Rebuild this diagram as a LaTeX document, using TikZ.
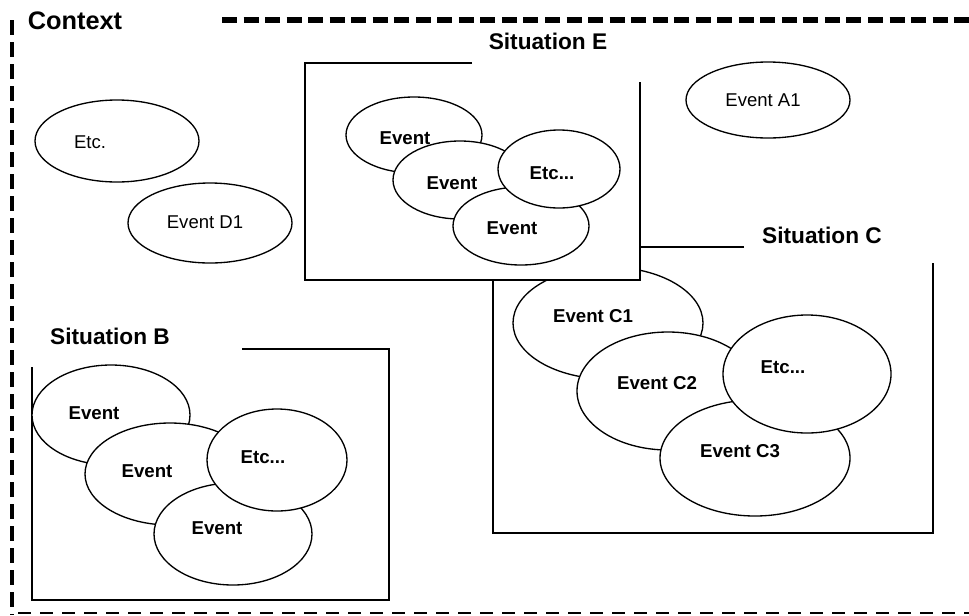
\documentclass[tikz,border=0pt]{standalone}
\usepackage{fontspec}
\setmainfont{Liberation Sans}
\usetikzlibrary{shapes.geometric}
\newcommand{\etcdots}{Etc...}

\begin{document}
\begin{tikzpicture}[x=0.75pt,y=-0.75pt,
                event/.style={ellipse,draw=black,fill=white,line width=1pt,inner sep=0pt},
                evtext/.style={font=\bfseries\fontsize{14}{16}\selectfont,inner sep=0pt},
                freetext/.style={font=\fontsize{13.9}{16}\selectfont,inner sep=0pt},
                sitlabel/.style={font=\bfseries\fontsize{17}{20}\selectfont,inner sep=0pt},
                sitbox/.style={draw=black,line width=1.1pt}
            ]
                \useasboundingbox (0,0) rectangle (969,615);

                % context frame
                \node[font=\bfseries\fontsize{19}{22}\selectfont,inner sep=0pt] (context) at (75,21) {Context};
                \coordinate (ctxtop) at (222,20);
                \coordinate (ctxtopr) at (969,20);
                \coordinate (ctxleft) at (12,20);
                \coordinate (ctxleftb) at (12,615);
                \coordinate (ctxbot) at (18,613);
                \coordinate (ctxbotr) at (969,613);
                \draw[line width=4.5pt,dash pattern=on 11.25pt off 4.9pt] (ctxtop) -- (ctxtopr);
                \draw[line width=3pt,dash pattern=on 11pt off 5.5pt] (ctxleft) -- (ctxleftb);
                \draw[line width=2.2pt,dash pattern=on 10pt off 6.5pt] (ctxbot) -- (ctxbotr);

                % events outside any situation
                \foreach \nm/\cx/\cy/\rx/\ry/\tx/\ty/\txt in {
                    etc/117/141/82/41/90/142/Etc.,
                    d1/210/223/82/40/205/222/Event D1,
                    a1/768/100/82/38/763/100/Event A1}
                    {
                    \node[event,minimum width=\rx*1.5pt,minimum height=\ry*1.5pt] (\nm) at (\cx,\cy) { };
                    \node[freetext] (\nm-t) at (\tx,\ty) {\txt};
                }

                % situation C
                \draw[sitbox] (744,247) -- (493,247) -- (493,533) -- (933,533) -- (933,263);
                \node[sitlabel] (sitC) at (822,235) {Situation C};
                \foreach \nm/\cx/\cy/\rx/\ry/\tx/\ty/\txt in {
                    c1/608/323/95/56/593/316/Event C1,
                    c2/668/391/91/59/657/383/Event C2,
                    c3/755/458/95/58/740/451/Event C3,
                    c4/807/374/84/59/783/367/\etcdots}
                    {
                    \node[event,minimum width=\rx*1.5pt,minimum height=\ry*1.5pt] (\nm) at (\cx,\cy) { };
                    \node[evtext] (\nm-t) at (\tx,\ty) {\txt};
                }

                % situation E
                \draw[sitbox,fill=white] (472,63) -- (305,63) -- (305,280) -- (640,280) -- (640,82);
                \node[sitlabel] (sitE) at (548,41) {Situation E};
                \foreach \nm/\cx/\cy/\rx/\ry/\tx/\ty/\txt in {
                    e1/414/135/68/38/405/138/Event,
                    e2/460/180/67/39/452/183/Event,
                    e3/521/226/68/39/512/228/Event,
                    e4/559/169/61/39/552/173/\etcdots}
                    {
                    \node[event,minimum width=\rx*1.5pt,minimum height=\ry*1.5pt] (\nm) at (\cx,\cy) { };
                    \node[evtext] (\nm-t) at (\tx,\ty) {\txt};
                }

                % situation B
                \draw[sitbox] (32,367) -- (32,600) -- (389,600) -- (389,349) -- (242,349);
                \node[sitlabel] (sitB) at (110,336) {Situation B};
                \foreach \nm/\cx/\cy/\rx/\ry/\tx/\ty/\txt in {
                    b1/111/415/79/50/94/413/Event,
                    b2/170/474/85/51/147/471/Event,
                    b3/233/534/79/51/217/528/Event,
                    b4/277/460/70/51/263/457/\etcdots}
                    {
                    \node[event,minimum width=\rx*1.5pt,minimum height=\ry*1.5pt] (\nm) at (\cx,\cy) { };
                    \node[evtext] (\nm-t) at (\tx,\ty) {\txt};
                }

            \end{tikzpicture}
\end{document}
